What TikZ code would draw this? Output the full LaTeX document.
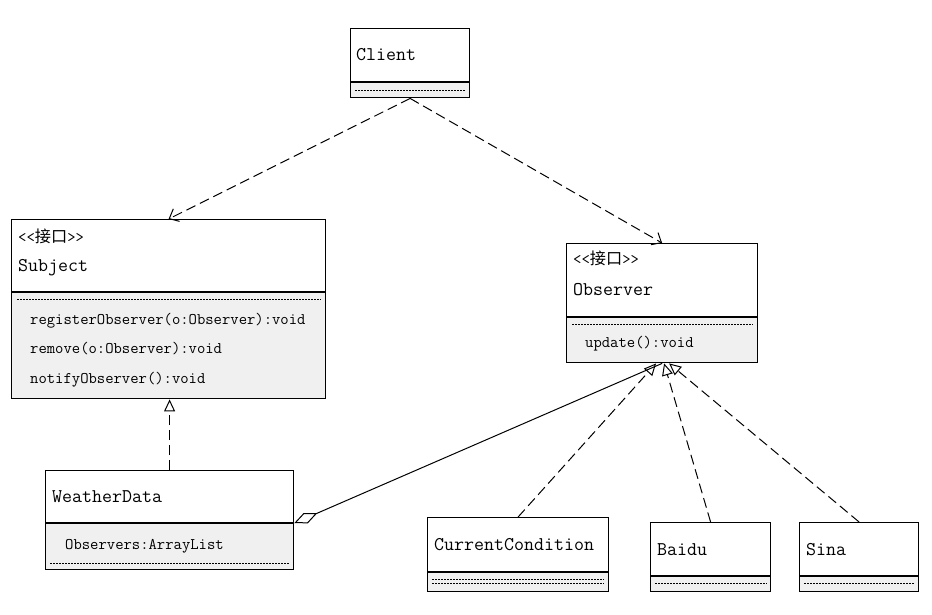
\documentclass[tikz,border=0pt]{standalone}
\usepackage{fontspec}
\newfontfamily\cjkfont{Noto Sans CJK SC}
\usepackage{xcolor}
\usetikzlibrary{positioning,calc,arrows.meta}
\definecolor{boxgray}{HTML}{F0F0F0}
\newcommand{\jiekou}{<<{\cjkfont 接口}>>}

\tikzset{
  namebox/.style={draw, fill=white, line width=1.2pt, anchor=north west, inner sep=0pt},
  bodybox/.style={draw, fill=boxgray, line width=1.2pt, inner sep=0pt},
  clsname/.style={anchor=base west, inner sep=0pt, font=\ttfamily\fontsize{19.4}{22}\selectfont},
  member/.style={anchor=base west, inner sep=0pt, font=\ttfamily\fontsize{16.2}{19}\selectfont},
  sepline/.style={line width=0.8pt, dash pattern=on 2pt off 1pt},
  uses/.style={line width=1pt, dash pattern=on 10pt off 5pt, -{Straight Barb[length=8pt,width=14pt]}},
  realizes/.style={line width=1pt, dash pattern=on 10pt off 5pt, -{Triangle[open,length=12pt,width=11pt]}},
  aggregates/.style={line width=1pt, {Diamond[open,length=25pt,width=11pt]}-},
}

\begin{document}
\begin{tikzpicture}[x=1pt, y=-1pt]
    \useasboundingbox (0,0) rectangle (932,614);

    \node[namebox, minimum width=119pt, minimum height=53pt] (client) at (350,28) {};
    \node[bodybox, minimum width=119pt, minimum height=15pt, below=0pt of client] (client-b) {};
    \node[clsname] (client-t) at ($(client.north west)+(6,32)$) {Client};
    \draw[sepline] ($(client-b.north west)+(5,8)$) -- ($(client-b.north east)+(-5,8)$);

    \node[namebox, minimum width=314pt, minimum height=72pt] (subject) at (11,219) {};
    \node[bodybox, minimum width=314pt, minimum height=106pt, below=0pt of subject] (subject-b) {};
    \node[member] (subject-s) at ($(subject.north west)+(7,23)$) {\jiekou};
    \node[clsname] (subject-t) at ($(subject.north west)+(7,52)$) {Subject};
    \draw[sepline] ($(subject-b.north west)+(6,7)$) -- ($(subject-b.north east)+(-5,7)$);
    \node[member] (subject-m1) at ($(subject-b.north west)+(19,32)$) {registerObserver(o:Observer):void};
    \node[member] (subject-m2) at ($(subject-b.north west)+(19,61)$) {remove(o:Observer):void};
    \node[member] (subject-m3) at ($(subject-b.north west)+(19,91)$) {notifyObserver():void};

    \node[namebox, minimum width=191pt, minimum height=73pt] (observer) at (566,243) {};
    \node[bodybox, minimum width=191pt, minimum height=45pt, below=0pt of observer] (observer-b) {};
    \node[member] (observer-s) at ($(observer.north west)+(7,21)$) {\jiekou};
    \node[clsname] (observer-t) at ($(observer.north west)+(7,52)$) {Observer};
    \draw[sepline] ($(observer-b.north west)+(6,7)$) -- ($(observer-b.north east)+(-5,7)$);
    \node[member] (observer-m1) at ($(observer-b.north west)+(19,30)$) {update():void};

    \node[namebox, minimum width=248pt, minimum height=52pt] (weather) at (45,470) {};
    \node[bodybox, minimum width=248pt, minimum height=46pt, below=0pt of weather] (weather-b) {};
    \node[clsname] (weather-t) at ($(weather.north west)+(7,32)$) {WeatherData};
    \node[member] (weather-m1) at ($(weather-b.north west)+(20,26)$) {Observers:ArrayList};
    \draw[sepline] ($(weather-b.south west)+(5,-7)$) -- ($(weather-b.south east)+(-5,-7)$);

    \node[namebox, minimum width=181pt, minimum height=54pt] (current) at (427,517) {};
    \node[bodybox, minimum width=181pt, minimum height=19pt, below=0pt of current] (current-b) {};
    \node[clsname] (current-t) at ($(current.north west)+(7,33)$) {CurrentCondition};
    \draw[sepline] ($(current-b.north west)+(5,7)$) -- ($(current-b.north east)+(-5,7)$);
    \draw[sepline] ($(current-b.north west)+(5,11)$) -- ($(current-b.north east)+(-5,11)$);

    \node[namebox, minimum width=120pt, minimum height=53pt] (baidu) at (650,522) {};
    \node[bodybox, minimum width=120pt, minimum height=15pt, below=0pt of baidu] (baidu-b) {};
    \node[clsname] (baidu-t) at ($(baidu.north west)+(7,33)$) {Baidu};
    \draw[sepline] ($(baidu-b.north west)+(5,7)$) -- ($(baidu-b.north east)+(-5,7)$);

    \node[namebox, minimum width=119pt, minimum height=53pt] (sina) at (799,522) {};
    \node[bodybox, minimum width=119pt, minimum height=15pt, below=0pt of sina] (sina-b) {};
    \node[clsname] (sina-t) at ($(sina.north west)+(7,33)$) {Sina};
    \draw[sepline] ($(sina-b.north west)+(5,7)$) -- ($(sina-b.north east)+(-5,7)$);

    \draw[uses] (client-b.south) -- (subject.north);
    \draw[uses] (client-b.south) -- (observer.north);
    \draw[realizes] (weather.north) -- (weather.north |- subject-b.south);
    \draw[aggregates] (weather.south east) -- (observer-b.south);
    \draw[realizes] (current.north) -- ([xshift=-6pt]observer-b.south);
    \draw[realizes] (baidu.north) -- ([xshift=2pt]observer-b.south);
    \draw[realizes] (sina.north) -- ([xshift=7pt]observer-b.south);
\end{tikzpicture}
\end{document}
